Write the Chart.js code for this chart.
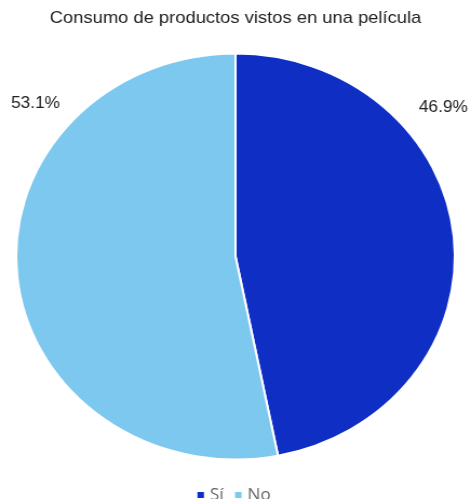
<!DOCTYPE html>
<html>
<head>
<meta charset="utf-8">
<script src="https://cdn.jsdelivr.net/npm/chart.js@4.4.1/dist/chart.umd.min.js"></script>
<style>
  html, body { margin: 0; padding: 0; background: #ffffff; overflow: hidden; width: 471px; height: 499px; }
  #wrap { position: absolute; left: 0; top: 0; width: 436px; height: 513px; transform: scaleX(1.0803); transform-origin: 0 0; }
</style>
</head>
<body>
<div id="wrap"><canvas id="c"></canvas></div>
<script>
const categories = ["Sí", "No"];
const values = [46.9, 53.1];
const valueLabels = ["46.9%", "53.1%"];
const sliceColors = ["#0f2ec4", "#7dc8ee"];
const chartTitle = "Consumo de productos vistos en una película";

const outsideLabels = {
  id: "outsideLabels",
  afterDatasetsDraw(chart, args, opts) {
    const ctx = chart.ctx;
    const meta = chart.getDatasetMeta(0);
    ctx.save();
    ctx.font = "16px 'Liberation Sans', Arial, sans-serif";
    ctx.fillStyle = "#222222";
    ctx.textAlign = "center";
    ctx.textBaseline = "middle";
    meta.data.forEach((arc, i) => {
      const p = arc.getProps(["x", "y", "outerRadius", "startAngle", "endAngle"], true);
      const a = p.startAngle + (p.endAngle - p.startAngle) * opts.fractions[i];
      const r = p.outerRadius + opts.offsets[i];
      ctx.fillText(valueLabels[i], p.x + Math.cos(a) * r, p.y + Math.sin(a) * r);
    });
    ctx.restore();
  }
};

new Chart(document.getElementById("c"), {
  type: "pie",
  data: {
    labels: categories,
    datasets: [{
      data: values,
      backgroundColor: sliceColors,
      borderColor: "#ffffff",
      borderWidth: 2,
      radius: 203
    }]
  },
  plugins: [outsideLabels],
  options: {
    responsive: true,
    maintainAspectRatio: false,
    animation: false,
    layout: { padding: 0 },
    plugins: {
      title: {
        display: true,
        text: chartTitle,
        color: "#222222",
        font: { family: "'Liberation Sans', Arial, sans-serif", size: 17, weight: "normal" },
        padding: { top: 8, bottom: 10.6 }
      },
      legend: {
        position: "bottom",
        labels: {
          color: "#666666",
          font: { family: "'Open Sans', sans-serif", size: 16 },
          usePointStyle: true,
          pointStyle: "rect",
          boxWidth: 1,
          boxHeight: 8,
          padding: 13
        }
      },
      tooltip: { enabled: false },
      outsideLabels: { fractions: [0.31, 0.736], offsets: [40, 37] }
    }
  }
});
</script>
</body>
</html>
